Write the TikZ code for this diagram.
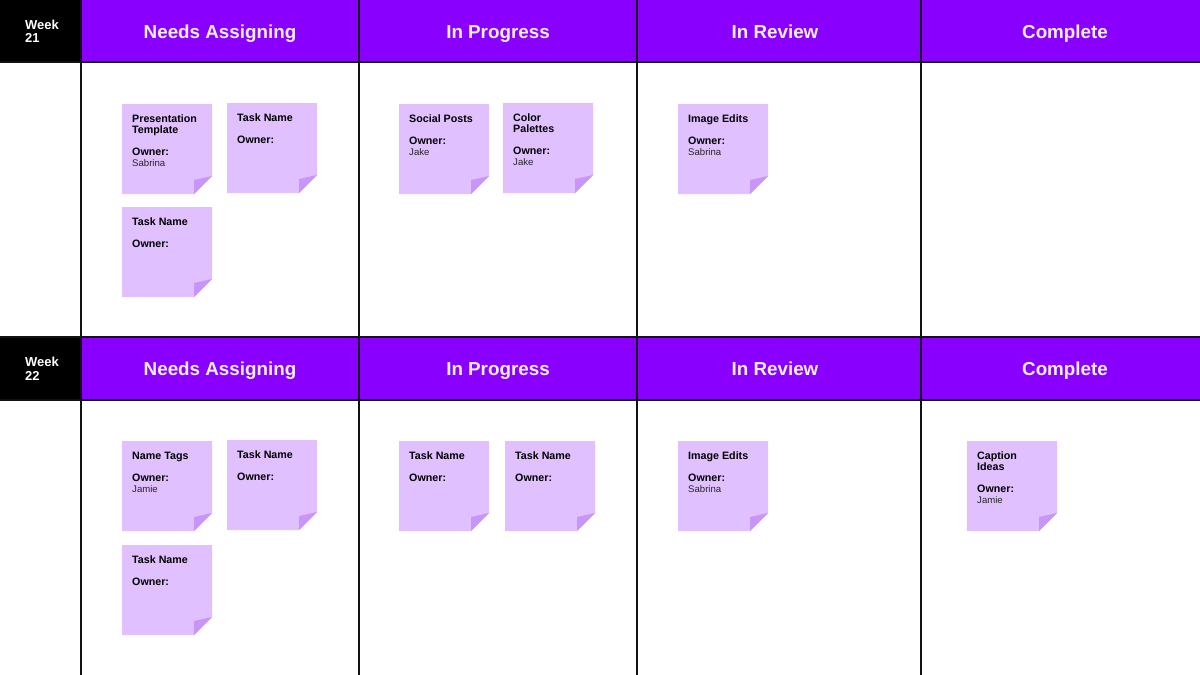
\documentclass[tikz,border=0pt]{standalone}
\usepackage{fontspec}
\setmainfont{Liberation Sans}
\definecolor{hdr}{RGB}{138,0,255}
\definecolor{hdrtxt}{RGB}{246,238,255}
\definecolor{notecol}{RGB}{224,192,255}
\definecolor{foldcol}{RGB}{200,150,248}
\definecolor{gridcol}{RGB}{18,18,18}
\newcommand\stickybase[3]{%
  \coordinate (#1) at (#2,#3);
  \fill[notecol] (#1) -- ({#2+90},#3) -- ({#2+90},{#3+72}) -- ({#2+72},{#3+90}) -- (#2,{#3+90}) -- cycle;
  \fill[foldcol] ({#2+72},{#3+76}) -- ({#2+90},{#3+72}) -- ({#2+72},{#3+90}) -- cycle;
}
\newcommand\stickyone[5]{%
  \stickybase{#1}{#2}{#3}
  \node[ttl] (#1-t) at ({#2+10},{#3+18}) {#4};
  \node[ttl] (#1-o) at ({#2+10},{#3+40}) {Owner:};
  \if\relax\detokenize{#5}\relax\else
  \node[who] (#1-n) at ({#2+10},{#3+51}) {#5};\fi
}
\newcommand\stickytwo[6]{%
  \stickybase{#1}{#2}{#3}
  \node[ttl] (#1-t) at ({#2+10},{#3+18}) {#4};
  \node[ttl] (#1-u) at ({#2+10},{#3+29}) {#5};
  \node[ttl] (#1-o) at ({#2+10},{#3+51}) {Owner:};
  \node[who] (#1-n) at ({#2+10},{#3+62}) {#6};
}
\begin{document}
\begin{tikzpicture}[x=1pt,y=-1pt,
  gridline/.style={draw=gridcol,line width=2.4pt},
  htxt/.style={anchor=base,text=hdrtxt,inner sep=0pt,font=\fontsize{18.8}{20}\selectfont\bfseries},
  wtxt/.style={anchor=base west,text=white,inner sep=0pt,font=\fontsize{13}{13}\selectfont\bfseries},
  ttl/.style={anchor=base west,inner sep=0pt,text=black,font=\fontsize{10.7}{11}\selectfont\bfseries},
  who/.style={anchor=base west,inner sep=0pt,text=black!85,font=\fontsize{9.6}{10}\selectfont}]
\useasboundingbox (0,0) rectangle (1200,675);
\fill[white] (0,0) rectangle (1200,675);
% header bands
\fill[hdr] (81,0) rectangle (1200,62);
\fill[black] (0,0) rectangle (81,62);
\fill[hdr] (81,337) rectangle (1200,400);
\fill[black] (0,337) rectangle (81,400);
% grid lines
\foreach \gx in {81,359,637,921} \draw[gridline] (\gx,0) -- (\gx,675);
\foreach \gy in {62,337,400} \draw[gridline] (0,\gy) -- (1200,\gy);
% week labels
\node[wtxt] (w21a) at (25,29.5) {Week};
\node[wtxt] (w21b) at (25,42.8) {21};
\node[wtxt] (w22a) at (25,366.7) {Week};
\node[wtxt] (w22b) at (25,380) {22};
% column headers
\node[htxt] (h1a) at (220,38.2) {Needs Assigning};
\node[htxt] (h1b) at (498,38.2) {In Progress};
\node[htxt] (h1c) at (775,38.2) {In Review};
\node[htxt] (h1d) at (1065,38.2) {Complete};
\node[htxt] (h2a) at (220,375) {Needs Assigning};
\node[htxt] (h2b) at (498,375) {In Progress};
\node[htxt] (h2c) at (775,375) {In Review};
\node[htxt] (h2d) at (1065,375) {Complete};
% week 21 notes
\stickytwo{n1}{122}{104}{Presentation}{Template}{Sabrina}
\stickyone{n2}{227}{103}{Task Name}{}
\stickyone{n3}{122}{207}{Task Name}{}
\stickyone{n4}{399}{104}{Social Posts}{Jake}
\stickytwo{n5}{503}{103}{Color}{Palettes}{Jake}
\stickyone{n6}{678}{104}{Image Edits}{Sabrina}
% week 22 notes
\stickyone{m1}{122}{441}{Name Tags}{Jamie}
\stickyone{m2}{227}{440}{Task Name}{}
\stickyone{m3}{122}{545}{Task Name}{}
\stickyone{m4}{399}{441}{Task Name}{}
\stickyone{m5}{505}{441}{Task Name}{}
\stickyone{m6}{678}{441}{Image Edits}{Sabrina}
\stickytwo{m7}{967}{441}{Caption}{Ideas}{Jamie}
\end{tikzpicture}
\end{document}
